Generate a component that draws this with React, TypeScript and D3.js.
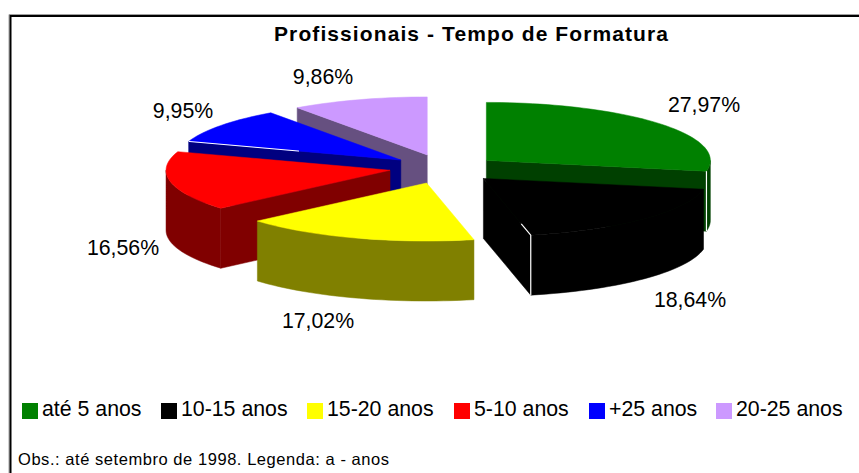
import React from "react";
import * as d3 from "d3";

const categories = ["até 5 anos", "10-15 anos", "15-20 anos", "5-10 anos", "+25 anos", "20-25 anos"];
const values = [27.97, 18.64, 17.02, 16.56, 9.95, 9.86];
const labels = ["27,97%", "18,64%", "17,02%", "16,56%", "9,95%", "9,86%"];
const topColors = ["#008000", "#000000", "#ffff00", "#ff0000", "#0000ff", "#cc99ff"];
const sideColors = ["#004000", "#000000", "#808000", "#800000", "#000080", "#665080"];
// order in which the slices are painted, back to front
const paintOrder = [5, 4, 3, 2, 0, 1];
const labelAnchors: [number, number][] = [[704, 112], [690, 307], [318, 328], [123, 255], [183, 118], [323, 84]];
const legendX = [22, 161, 307, 454, 589, 716];
// small per-slice offsets on top of the radial explosion
const nudges: [number, number][] = [[0, 0], [0, -1], [0, 0], [0, -2], [1, -1], [0, -1]];

const W = 859, H = 473;
const CX = 444, CY = 169.5, RX = 224, RY = 58, DEPTH = 60, EXPLODE = 55;
const deg = Math.PI / 180;

const pie = d3.pie<number>().sort(null).startAngle(0).endAngle(2 * Math.PI);
const arcs = pie(values);
const lineGen = d3.line<[number, number]>();

function sweep(a0: number, a1: number, ox: number, oy: number, dy = 0): [number, number][] {
  const n = Math.max(2, Math.ceil((a1 - a0) / deg / 2));
  return d3.range(n + 1).map((i) => {
    const a = a0 + ((a1 - a0) * i) / n;
    return [ox + RX * Math.sin(a), oy - RY * Math.cos(a) + dy] as [number, number];
  });
}

export default function App() {
  return (
    <svg width={W} height={H} style={{ position: "absolute", left: 0, top: 0, background: "#fff" }}>
      <path d={`M${W + 2} 14.5H9V${H + 2}`} fill="none" stroke="#a0a0a0" strokeWidth={1} />
      <path d={`M${W + 2} 16H10.5V${H + 2}`} fill="none" stroke="#000" strokeWidth={2} />
      <text x={471} y={41} textAnchor="middle" fontFamily="Liberation Sans" fontWeight="bold" fontSize={21} textLength={394} lengthAdjust="spacing">
        Profissionais - Tempo de Formatura
      </text>
      {paintOrder.map((i) => {
        const d = arcs[i];
        const mid = (d.startAngle + d.endAngle) / 2;
        const ox = CX + EXPLODE * Math.sin(mid) + nudges[i][0];
        const oy = CY - EXPLODE * (RY / RX) * Math.cos(mid) + nudges[i][1];
        const rimA0 = Math.max(d.startAngle, Math.PI / 2);
        const rimA1 = Math.min(d.endAngle, (3 * Math.PI) / 2);
        const faces: number[] = [];
        if (Math.sin(d.startAngle) < -1e-6) faces.push(d.startAngle);
        if (Math.sin(d.endAngle) > 1e-6) faces.push(d.endAngle);
        const top = sweep(d.startAngle, d.endAngle, ox, oy);
        const edge = (a: number, f: number): [number, number] => [
          ox + f * RX * Math.sin(a),
          oy - f * RY * Math.cos(a),
        ];
        const endC = edge(d.endAngle, 1);
        return (
          <g key={categories[i]}>
            {faces.map((a) => {
              const [ex, ey] = edge(a, 1);
              const pts: [number, number][] = [[ox, oy], [ex, ey], [ex, ey + DEPTH], [ox, oy + DEPTH]];
              return <path key={a} d={lineGen(pts)! + "Z"} fill={sideColors[i]} stroke={sideColors[i]} strokeWidth={0.5} />;
            })}
            {rimA1 > rimA0 && (
              <path
                d={lineGen([...sweep(rimA0, rimA1, ox, oy), ...sweep(rimA0, rimA1, ox, oy, DEPTH).reverse()])! + "Z"}
                fill={sideColors[i]}
                stroke={sideColors[i]}
                strokeWidth={0.5}
              />
            )}
            <path d={lineGen([[ox, oy], ...top])! + "Z"} fill={topColors[i]} stroke={topColors[i]} strokeWidth={0.5} />
            {i === 0 && (
              <path d={lineGen([endC, [endC[0], endC[1] + DEPTH]])!} stroke="#fff" strokeWidth={1.2} fill="none" />
            )}
            {i === 1 && (
              <path
                d={lineGen([edge(d.endAngle, 0.8), endC, [endC[0], endC[1] + DEPTH]])!}
                stroke="#fff"
                strokeWidth={1.2}
                fill="none"
              />
            )}
            {i === 4 && (
              <path d={lineGen([edge(d.startAngle, 1), edge(d.startAngle, 0.48)])!} stroke="#fff" strokeWidth={1} fill="none" />
            )}
          </g>
        );
      })}
      {labels.map((t, i) => (
        <text key={t} x={labelAnchors[i][0]} y={labelAnchors[i][1]} textAnchor="middle" fontFamily="Liberation Sans" fontSize={21.3} fill="#000">
          {t}
        </text>
      ))}
      {categories.map((c, i) => (
        <g key={c}>
          <rect x={legendX[i]} y={403} width={16} height={16} fill={topColors[i]} />
          <text x={legendX[i] + 20} y={416} fontFamily="Liberation Sans" fontSize={21.3} fill="#000">
            {c}
          </text>
        </g>
      ))}
      <text x={18} y={465} fontFamily="Liberation Sans" fontSize={16.5} fill="#000" textLength={371} lengthAdjust="spacing">
        Obs.: até setembro de 1998. Legenda: a - anos
      </text>
    </svg>
  );
}
